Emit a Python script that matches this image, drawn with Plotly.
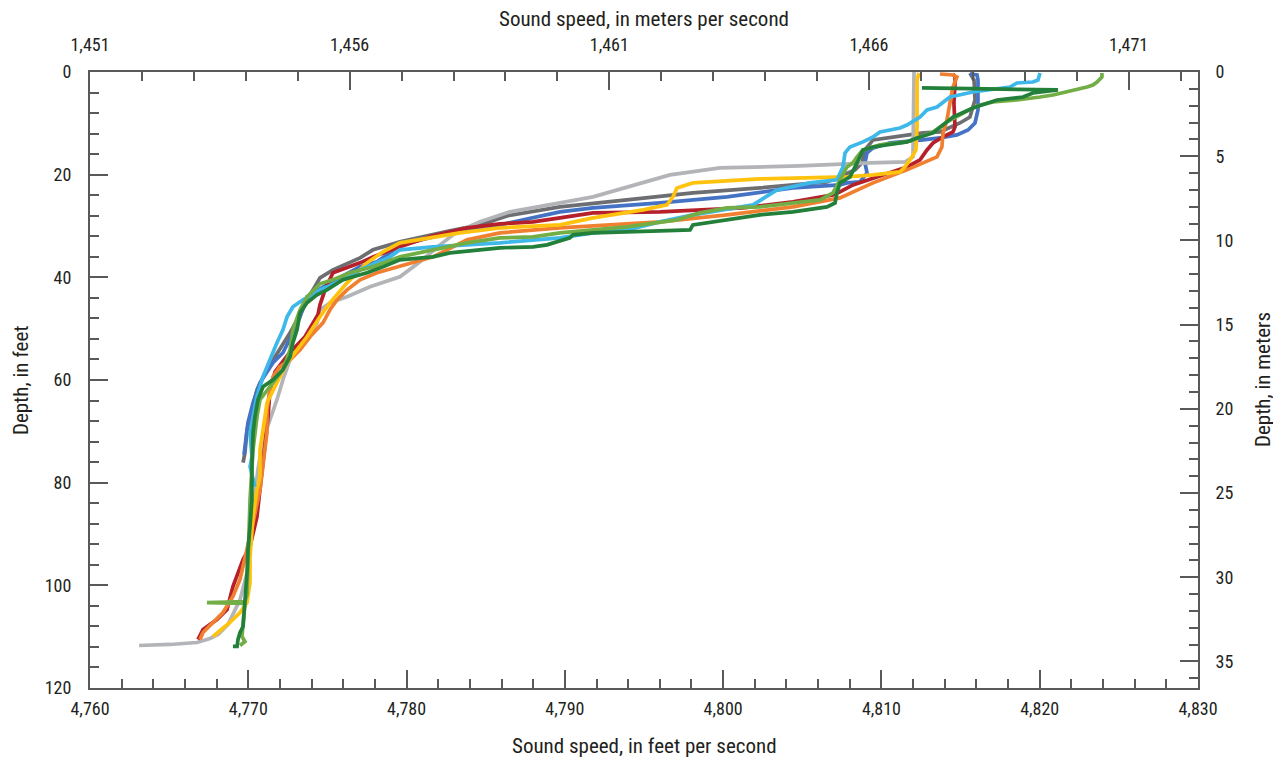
import plotly.graph_objects as go

# ---------------- data (speed in ft/s, depth in ft) ----------------
lgray_speed = [4812.06, 4811.99, 4811.49, 4809.28, 4804.85, 4799.80, 4796.64, 4794.30, 4791.78, 4789.69,
               4786.53, 4784.64, 4783.19, 4782.11, 4780.85, 4779.58, 4777.69, 4776.24, 4775.16, 4774.53,
               4774.34, 4773.90, 4773.27, 4772.64, 4772.19, 4771.81, 4771.37, 4770.93, 4770.61, 4770.23,
               4769.98, 4769.48, 4768.72, 4768.09, 4767.58, 4766.76, 4765.05, 4763.10]
lgray_depth = [0.0, 16.54, 17.52, 17.71, 18.30, 18.68, 20.05, 22.19, 24.33, 25.50,
               27.25, 29.19, 31.14, 33.67, 36.98, 39.90, 41.85, 43.79, 44.96, 46.32,
               48.85, 51.58, 53.52, 56.05, 59.95, 63.84, 67.73, 71.62, 77.46, 87.19,
               96.92, 102.76, 107.63, 109.58, 110.35, 111.13, 111.52, 111.72]

dgray_speed = [4815.59, 4815.85, 4815.91, 4815.78, 4815.59, 4814.96, 4813.70, 4812.62, 4810.54, 4809.47,
               4808.96, 4808.77, 4808.33, 4806.56, 4802.33, 4798.09, 4793.92, 4789.69, 4786.34, 4784.64,
               4782.74, 4779.58, 4777.88, 4777.06, 4775.35, 4774.53, 4773.90, 4773.27, 4772.64, 4772.00,
               4771.18, 4770.55, 4770.11, 4769.92, 4769.79, 4769.67]
dgray_depth = [0.19, 1.56, 5.45, 6.81, 8.76, 9.93, 11.68, 11.87, 12.65, 13.23,
               15.18, 17.71, 19.07, 21.41, 22.58, 23.55, 24.91, 26.27, 28.03, 29.78,
               30.95, 33.09, 34.64, 36.20, 38.54, 40.09, 43.40, 47.30, 50.80, 54.11,
               58.00, 61.89, 67.15, 69.68, 74.15, 76.10]

blue_speed = [4815.59, 4816.04, 4816.10, 4816.10, 4815.91, 4815.47, 4814.77, 4813.70, 4812.62, 4810.54,
              4809.47, 4809.09, 4808.96, 4809.09, 4808.64, 4807.82, 4807.38, 4804.41, 4800.24, 4796.01,
              4791.78, 4789.69, 4785.90, 4782.74, 4779.58, 4778.95, 4778.13, 4777.06, 4775.16, 4773.71,
              4773.27, 4772.82, 4772.19, 4771.56, 4770.74, 4770.30, 4769.98, 4769.79, 4769.73]
blue_depth = [0.39, 0.58, 1.56, 7.40, 9.93, 11.29, 12.26, 12.85, 13.23, 13.82,
              14.79, 15.77, 17.71, 19.66, 21.41, 21.60, 21.99, 22.58, 24.33, 25.50,
              26.47, 27.25, 29.78, 31.34, 33.67, 35.23, 36.98, 37.95, 41.07, 43.79,
              47.68, 50.80, 54.69, 56.64, 60.53, 64.42, 68.32, 73.57, 74.54]

red_speed = [4814.52, 4814.65, 4814.65, 4814.58, 4814.65, 4814.52, 4813.89, 4813.26, 4812.88, 4812.44,
             4811.61, 4809.47, 4808.20, 4807.38, 4806.94, 4804.41, 4801.25, 4796.01, 4791.78, 4789.69,
             4787.99, 4785.90, 4783.82, 4781.67, 4779.58, 4777.88, 4777.06, 4775.35, 4774.85, 4774.53,
             4774.40, 4773.58, 4772.51, 4771.69, 4771.37, 4771.25, 4770.93, 4770.55, 4770.11, 4769.67,
             4769.03, 4768.66, 4768.02, 4767.14, 4766.82]
red_depth = [0.39, 0.97, 2.14, 6.03, 10.70, 11.68, 12.65, 13.82, 15.18, 17.13,
             18.49, 20.63, 21.99, 23.36, 23.94, 25.30, 26.47, 27.25, 27.44, 28.42,
             29.19, 29.58, 30.36, 31.92, 34.06, 36.01, 37.17, 39.12, 42.43, 45.35,
             47.30, 51.58, 55.08, 58.39, 61.89, 67.15, 75.52, 86.61, 92.45, 94.98,
             100.23, 104.71, 106.66, 108.60, 110.55]

orange_speed = [4813.70, 4814.52, 4814.77, 4814.52, 4814.33, 4814.14, 4813.89, 4813.82, 4813.51, 4812.62,
                4811.61, 4809.47, 4808.46, 4807.38, 4804.41, 4800.24, 4796.01, 4792.85, 4789.69, 4785.90,
                4783.82, 4781.67, 4779.58, 4778.13, 4777.06, 4776.24, 4775.60, 4775.16, 4774.72, 4773.90,
                4773.27, 4772.64, 4772.00, 4771.56, 4771.37, 4771.18, 4771.18, 4770.74, 4770.30, 4769.92,
                4769.48, 4769.03, 4768.40, 4767.77, 4767.14, 4766.95]
orange_depth = [0.39, 0.58, 0.97, 2.92, 6.03, 9.34, 11.87, 14.60, 16.54, 17.71,
                19.07, 21.60, 22.97, 24.52, 26.27, 27.83, 29.19, 29.78, 30.36, 31.34,
                32.70, 36.01, 37.95, 39.12, 40.48, 42.43, 44.38, 46.32, 48.85, 51.58,
                54.11, 56.05, 57.41, 59.36, 61.89, 65.78, 70.26, 81.35, 87.78, 93.03,
                98.87, 102.18, 105.29, 107.24, 109.19, 110.55]

yellow_speed = [4812.37, 4812.25, 4812.25, 4812.18, 4811.93, 4811.49, 4811.17, 4809.47, 4807.82, 4802.33,
                4798.09, 4797.08, 4796.83, 4796.45, 4794.94, 4791.78, 4789.69, 4785.90, 4783.37, 4779.58,
                4778.51, 4777.50, 4776.87, 4776.24, 4775.16, 4774.53, 4773.71, 4773.08, 4772.45, 4772.00,
                4771.56, 4771.18, 4770.93, 4770.74, 4770.74, 4770.55, 4770.30, 4770.11, 4770.11, 4769.92,
                4769.48, 4768.84, 4767.77]
yellow_depth = [0.19, 1.56, 10.70, 15.18, 16.54, 18.49, 19.46, 20.05, 20.44, 20.83,
                21.60, 22.58, 24.33, 25.89, 26.86, 28.42, 29.78, 30.36, 31.34, 33.28,
                35.03, 37.17, 39.12, 41.07, 44.96, 47.68, 51.58, 54.11, 56.64, 59.36,
                61.89, 64.42, 69.68, 73.57, 78.82, 81.35, 86.61, 94.40, 99.46, 103.35,
                105.29, 107.24, 109.97]

lblue_speed = [4820.02, 4819.89, 4819.57, 4818.56, 4818.12, 4816.86, 4815.78, 4814.33, 4813.89, 4813.51,
               4812.88, 4812.44, 4811.61, 4811.17, 4809.91, 4809.47, 4808.83, 4808.01, 4807.70, 4807.57,
               4807.19, 4805.49, 4803.40, 4802.33, 4801.89, 4798.09, 4796.01, 4793.92, 4791.78, 4789.69,
               4785.90, 4781.67, 4779.58, 4778.95, 4778.13, 4777.06, 4776.43, 4775.60, 4774.53, 4773.46,
               4772.82, 4772.45, 4772.19, 4771.81, 4771.37, 4770.93, 4770.55, 4770.30, 4770.11, 4770.23,
               4770.11, 4770.42]
lblue_depth = [0.19, 1.56, 1.95, 2.14, 2.92, 3.50, 3.89, 4.87, 5.84, 6.81,
               7.40, 8.76, 10.32, 10.90, 11.68, 12.65, 13.62, 14.60, 15.77, 18.49,
               21.02, 21.60, 22.97, 24.91, 25.89, 27.83, 29.19, 30.75, 31.34, 32.31,
               33.28, 34.06, 34.64, 36.01, 37.17, 38.54, 39.90, 41.07, 42.43, 44.38,
               45.74, 47.68, 50.21, 52.74, 56.05, 59.36, 63.25, 67.15, 70.26, 74.93,
               76.88, 80.77]

lgreen_speed = [4823.93, 4823.93, 4823.62, 4823.36, 4822.99, 4821.72, 4820.84, 4820.02, 4818.56, 4817.05,
                4816.23, 4815.78, 4815.15, 4814.14, 4813.70, 4813.26, 4812.44, 4811.61, 4809.91, 4808.83,
                4808.46, 4808.20, 4807.82, 4807.38, 4806.94, 4806.12, 4804.41, 4802.33, 4800.24, 4798.54,
                4797.08, 4793.92, 4789.69, 4787.99, 4785.90, 4783.82, 4781.67, 4779.58, 4777.88, 4776.43,
                4775.35, 4774.53, 4773.71, 4773.27, 4772.82, 4772.64, 4772.19, 4771.37, 4770.74, 4770.55,
                4770.30, 4770.11, 4769.98, 4769.92, 4769.79, 4767.39, 4769.79, 4769.67, 4769.60, 4769.79,
                4769.48]
lgreen_depth = [0.19, 0.97, 1.95, 2.53, 2.92, 3.89, 4.48, 4.87, 5.45, 5.84,
                6.42, 7.01, 7.98, 9.73, 10.70, 11.68, 12.65, 13.62, 14.21, 15.18,
                16.54, 17.71, 18.49, 21.02, 23.55, 24.91, 25.50, 26.27, 26.47, 27.44,
                28.80, 30.17, 31.34, 32.11, 32.31, 33.28, 34.64, 36.01, 37.95, 39.12,
                40.48, 41.26, 43.79, 46.32, 50.21, 54.11, 58.00, 61.31, 63.84, 67.15,
                73.57, 83.30, 93.03, 101.79, 103.15, 103.35, 103.54, 106.66, 109.97, 110.94,
                111.72]

dgreen_speed = [4812.56, 4821.15, 4819.57, 4818.94, 4817.30, 4816.23, 4815.78, 4814.52, 4813.70, 4813.26,
                4812.25, 4811.61, 4809.47, 4808.83, 4808.46, 4808.01, 4807.38, 4807.19, 4807.07, 4806.56,
                4804.41, 4802.33, 4798.09, 4797.91, 4796.01, 4791.78, 4790.51, 4790.32, 4788.87, 4787.99,
                4785.90, 4782.74, 4781.67, 4779.58, 4778.51, 4777.50, 4775.98, 4774.97, 4774.34, 4773.71,
                4773.27, 4773.08, 4772.82, 4772.64, 4772.19, 4771.56, 4770.93, 4770.61, 4770.42, 4770.30,
                4770.23, 4770.23, 4770.11, 4769.98, 4769.92, 4769.79, 4769.67, 4769.48, 4769.35, 4769.29,
                4769.03]
dgreen_depth = [3.11, 3.50, 4.09, 4.87, 5.45, 6.42, 7.01, 8.76, 10.70, 11.87,
                12.85, 13.62, 14.60, 15.18, 17.71, 20.44, 21.60, 23.55, 25.50, 26.27,
                27.25, 27.83, 29.78, 30.75, 30.95, 31.34, 31.72, 32.31, 33.67, 34.06,
                34.25, 35.23, 36.01, 36.59, 37.95, 39.12, 40.48, 42.43, 43.40, 44.96,
                46.91, 50.21, 52.74, 55.47, 58.00, 59.95, 61.31, 63.84, 67.15, 70.26,
                76.88, 83.30, 88.56, 93.03, 97.51, 102.76, 108.02, 109.19, 110.55, 111.91,
                111.91]

# axis ticks
ft_ticks = [4760, 4770, 4780, 4790, 4800, 4810, 4820, 4830]
ms_ticks = [1451, 1456, 1461, 1466, 1471]
depth_ft_ticks = [0, 20, 40, 60, 80, 100, 120]
depth_m_ticks = [0, 5, 10, 15, 20, 25, 30, 35]

FT_PER_M = 3.28084
x_range = [4760, 4830]
x2_range = [1451, 1451 + (x_range[1] - x_range[0]) / FT_PER_M]
y_range = [120, 0]
y2_range = [120 / FT_PER_M, 0]

series = [
    (dgray_speed, dgray_depth, "#6D6E71"),
    (blue_speed, blue_depth, "#4472C4"),
    (lgray_speed, lgray_depth, "#B3B4B7"),
    (red_speed, red_depth, "#B5202A"),
    (orange_speed, orange_depth, "#F08030"),
    (yellow_speed, yellow_depth, "#FFC20E"),
    (lblue_speed, lblue_depth, "#3EB8E8"),
    (lgreen_speed, lgreen_depth, "#72AE45"),
    (dgreen_speed, dgreen_depth, "#23803A"),
]

FONT = "Liberation Sans Narrow, Arial Narrow, Roboto Condensed, DejaVu Sans Condensed, sans-serif"
AX = "#58595B"
TXT = "#231F20"

fig = go.Figure()
for sx, sy, col in series:
    fig.add_trace(go.Scatter(x=sx, y=sy, mode="lines", line=dict(color=col, width=3.7),
                             showlegend=False, hoverinfo="skip"))
# empty trace so the secondary axes are instantiated
fig.add_trace(go.Scatter(x=[], y=[], xaxis="x2", yaxis="y2", showlegend=False))

common = dict(showgrid=False, zeroline=False, showline=True, linecolor=AX, linewidth=2,
              ticks="inside", tickcolor=AX, tickwidth=1.5, ticklen=18, automargin=False,
              tickfont=dict(family=FONT, size=18, color=TXT))
minor = dict(ticklen=9, ticks="inside", tickcolor=AX, tickwidth=1.5)

# the page body adds an 8 px margin, so the figure is sized/offset to compensate
fig.update_layout(
    width=1273, height=753,
    margin=dict(l=82, r=83, t=64, b=73),
    plot_bgcolor="white", paper_bgcolor="white",
    xaxis=dict(range=x_range, tickvals=ft_ticks, tickformat=",d", ticklabelstandoff=3,
               minor=dict(dtick=2, **minor), **common),
    xaxis2=dict(range=x2_range, tickvals=ms_ticks, tickformat=",d", overlaying="x", side="top",
                anchor="y", ticklabelstandoff=12,
                minor=dict(dtick=1, tick0=1451, **minor), **common),
    yaxis=dict(range=y_range, tickvals=depth_ft_ticks, ticklabelstandoff=13,
               minor=dict(dtick=4, **minor), **common),
    yaxis2=dict(range=y2_range, tickvals=depth_m_ticks, overlaying="y", side="right", anchor="x",
                ticklabelstandoff=12,
                minor=dict(dtick=1, **minor), **common),
)

tfont = dict(family=FONT, size=21, color=TXT)
fig.add_annotation(text="Sound speed, in feet per second", xref="paper", yref="paper",
                   x=0.5, y=-0.0942, showarrow=False, font=tfont, xanchor="center", yanchor="middle",
                   borderpad=0)
fig.add_annotation(text="Sound speed, in meters per second", xref="paper", yref="paper",
                   x=0.5, y=1.0860, showarrow=False, font=tfont, xanchor="center", yanchor="middle",
                   borderpad=0)
fig.add_annotation(text="Depth, in feet", xref="paper", yref="paper", textangle=-90,
                   x=-0.0622, y=0.5, showarrow=False, font=tfont, xanchor="center", yanchor="middle",
                   borderpad=0)
fig.add_annotation(text="Depth, in meters", xref="paper", yref="paper", textangle=-90,
                   x=1.0587, y=0.5, showarrow=False, font=tfont, xanchor="center", yanchor="middle",
                   borderpad=0)

fig.write_html("out.html")
